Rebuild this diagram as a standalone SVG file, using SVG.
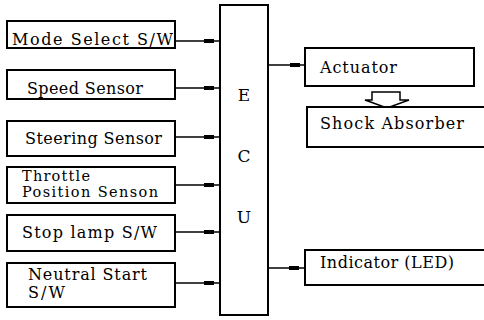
<svg xmlns="http://www.w3.org/2000/svg" width="484" height="320" viewBox="0 0 484 320">
<style>
.box{fill:#fff;stroke:#000;stroke-width:2}
.ln{stroke:#000;stroke-width:1.6;fill:none}
.plug{fill:#000}
.t{font-family:"DejaVu Serif","Liberation Serif",serif;font-size:16px;fill:#000}
.sm{font-size:14.5px}
.ecu{text-anchor:middle;font-size:17px}
</style>
<g id="connectors">
<line class="ln" x1="175" y1="41" x2="220" y2="41"/><rect class="plug" x="204" y="39" width="10" height="4"/>
<line class="ln" x1="175" y1="88" x2="220" y2="88"/><rect class="plug" x="204" y="86" width="10" height="4"/>
<line class="ln" x1="175" y1="137" x2="220" y2="137"/><rect class="plug" x="204" y="135" width="10" height="4"/>
<line class="ln" x1="175" y1="185" x2="220" y2="185"/><rect class="plug" x="204" y="183" width="10" height="4"/>
<line class="ln" x1="175" y1="232" x2="220" y2="232"/><rect class="plug" x="204" y="230" width="10" height="4"/>
<line class="ln" x1="175" y1="283" x2="220" y2="283"/><rect class="plug" x="204" y="281" width="10" height="4"/>
<line class="ln" x1="268" y1="65" x2="305" y2="65"/><rect class="plug" x="290" y="63" width="10" height="4"/>
<line class="ln" x1="268" y1="268" x2="305" y2="268"/><rect class="plug" x="289" y="266" width="10" height="4"/>
<polygon points="372,92 400,92 400,100 409,100 387,108 365,100 372,100" fill="#fff" stroke="#000" stroke-width="1.5"/>
</g>
<g id="ecu"><rect class="box" x="220" y="5" width="48" height="310"/>
<text class="t ecu" x="244" y="101">E</text><text class="t ecu" x="244" y="162">C</text><text class="t ecu" x="244" y="223">U</text></g>
<g id="mode"><rect class="box" x="7" y="21" width="168" height="27"/><text class="t" x="12" y="45" textLength="161" lengthAdjust="spacing">Mode Select S/W</text></g>
<g id="speed"><rect class="box" x="7" y="70" width="168" height="29"/><text class="t" x="27" y="94" textLength="116" lengthAdjust="spacing">Speed Sensor</text></g>
<g id="steering"><rect class="box" x="7" y="121" width="168" height="35"/><text class="t" x="25" y="144" textLength="137" lengthAdjust="spacing">Steering Sensor</text></g>
<g id="throttle"><rect class="box" x="7" y="167" width="168" height="36"/><text class="t sm" x="22" y="181" textLength="68" lengthAdjust="spacing">Throttle</text><text class="t sm" x="22" y="197" textLength="136" lengthAdjust="spacing">Position Senson</text></g>
<g id="stop"><rect class="box" x="7" y="215" width="168" height="36"/><text class="t" x="22" y="238" textLength="135" lengthAdjust="spacing">Stop lamp S/W</text></g>
<g id="neutral"><rect class="box" x="7" y="263" width="168" height="44"/><text class="t" x="28" y="280" textLength="119" lengthAdjust="spacing">Neutral Start</text><text class="t" x="28" y="298" textLength="37" lengthAdjust="spacing">S/W</text></g>
<g id="actuator"><rect class="box" x="305" y="48" width="169" height="38"/><text class="t" x="320" y="73" textLength="77" lengthAdjust="spacing">Actuator</text></g>
<g id="shock"><rect class="box" x="307" y="107" width="180" height="40"/><text class="t" x="320" y="129" textLength="144" lengthAdjust="spacing">Shock Absorber</text></g>
<g id="indicator"><rect class="box" x="305" y="250" width="182" height="35"/><text class="t" x="320" y="268" textLength="134" lengthAdjust="spacing">Indicator (LED)</text></g>
</svg>
